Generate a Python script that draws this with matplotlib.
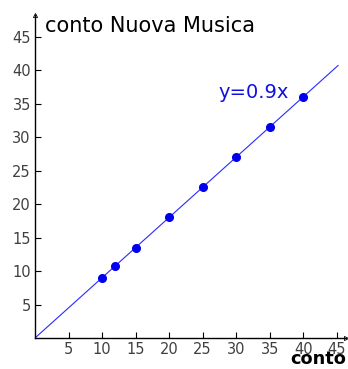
import matplotlib

matplotlib.use("Agg")
import matplotlib.pyplot as plt

# Nuova Musica count versus count, proportional relation y = 0.9x
conto = [10, 12, 15, 20, 25, 30, 35, 40]
conto_nm = [9, 10.8, 13.5, 18, 22.5, 27, 31.5, 36]
slope = 0.9
ticks = [5, 10, 15, 20, 25, 30, 35, 40, 45]

plt.rcParams["font.family"] = ["DejaVu Sans"]

fig = plt.figure(figsize=(3.48, 3.69), dpi=100)
ax = fig.add_axes([0.1006, 0.084, 0.894, 0.875])

ax.set_xlim(0, 46.4)
ax.set_ylim(0, 48.2)

# line through origin and data points
ax.plot([0, 45.2], [0, slope * 45.2], color="#2a2aff", lw=0.8)
ax.plot(conto, conto_nm, "o", color="#0000ee", ms=5.5)
ax.text(27.4, 35.8, "y=0.9x", color="#1010e0", fontsize=14, va="baseline")

for s in ("top", "right"):
    ax.spines[s].set_visible(False)
for s in ("left", "bottom"):
    ax.spines[s].set_color("black")
    ax.spines[s].set_linewidth(1.0)

ax.set_xticks(ticks)
ax.set_yticks(ticks)
ax.tick_params(direction="in", length=4, width=0.8, labelsize=10.5,
               labelcolor="#404040", pad=3)

# small arrow heads at the axis ends
ax.plot(1, 0, marker=">", color="black", ms=3, transform=ax.transAxes, clip_on=False,
        mfc="none", mew=0.6)
ax.plot(0, 1, marker="^", color="black", ms=3, transform=ax.transAxes, clip_on=False,
        mfc="none", mew=0.6)

fig.text(45 / 348, 1 - 32 / 369, "conto Nuova Musica", fontsize=15,
         va="baseline", ha="left")
# x axis title in the bottom right corner
fig.text(290 / 348, 0.5 / 369, "conto", fontsize=12.8, fontweight="bold",
         va="bottom", ha="left")

fig.savefig("out.png", dpi=100)
